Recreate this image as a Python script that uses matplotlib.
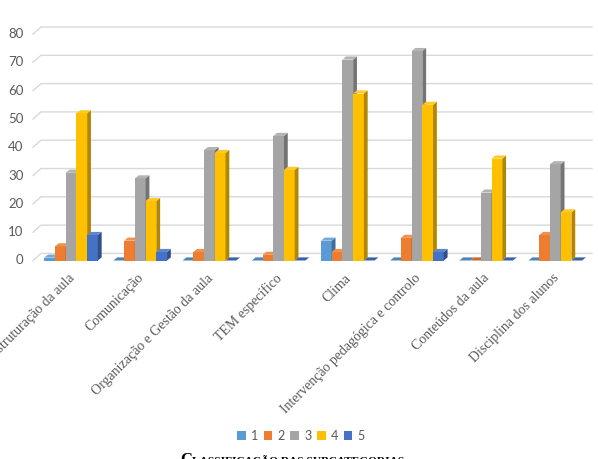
import numpy as np
import matplotlib.pyplot as plt
from matplotlib.patches import Polygon, Patch
from matplotlib.colors import to_rgb

# Data
categorias = ["Estruturação da aula", "Comunicação", "Organização e Gestão da aula",
              "TEM específico", "Clima", "Intervenção pedagógica e controlo",
              "Conteúdos da aula", "Disciplina dos alunos"]
serie_1 = [1, 0, 0, 0, 7, 0, 0, 0]
serie_2 = [5, 7, 3, 2, 3, 8, 0, 9]
serie_3 = [31, 29, 39, 44, 71, 74, 24, 34]
serie_4 = [52, 21, 38, 32, 59, 55, 36, 17]
serie_5 = [9, 3, 0, 0, 0, 3, 0, 0]
series = [serie_1, serie_2, serie_3, serie_4, serie_5]
nomes = ["1", "2", "3", "4", "5"]
cores = ["#5B9BD5", "#ED7D31", "#A5A5A5", "#FFC000", "#4472C4"]
yticks = [0, 10, 20, 30, 40, 50, 60, 70, 80]


def shade(c, f):
    r, g, b = to_rgb(c)
    return (r * f, g * f, b * f)


def tint(c, f):
    r, g, b = to_rgb(c)
    return (r + (1 - r) * f, g + (1 - g) * f, b + (1 - b) * f)


W, H = 598, 459
fig = plt.figure(figsize=(W / 100, H / 100), dpi=100)
left_px, right_px, bot_px, top_px = 33, 592, 260.5, 27
ax = fig.add_axes([left_px / W, 1 - bot_px / H, (right_px - left_px) / W, (bot_px - top_px) / H])
x0, x1 = -0.55, 7.53
ax.set_xlim(x0, x1)
ax.set_ylim(0, 82.5)
for s in ax.spines.values():
    s.set_visible(False)
ax.set_xticks([])
ax.set_yticks([])

# perspective gridlines (back wall)
gx, gy = 0.115, 2.5
for v in yticks:
    ax.plot([x0, x0 + gx, x1], [v, v + gy, v + gy], color="#D9D9D9", lw=1, zorder=0, clip_on=False)
    ax.text(x0 - 0.14, v, str(v), ha="right", va="center", fontsize=9.5, color="#595959", family="Lato")

# 3D-looking bars
w = 0.155
dx, dy = 0.055, 1.1
x = np.arange(len(categorias))
z = 2
for i, (vals, cor) in enumerate(zip(series, cores)):
    xc = x + (i - 2) * w
    ax.bar(xc, vals, width=w, color=cor, zorder=z, linewidth=0)
    for xi, h in zip(xc, vals):
        xl, xr = xi - w / 2, xi + w / 2
        side = Polygon([(xr, 0), (xr + dx, dy), (xr + dx, h + dy), (xr, h)],
                       closed=True, facecolor=shade(cor, 0.7), lw=0, zorder=z)
        top = Polygon([(xl, h), (xl + dx, h + dy), (xr + dx, h + dy), (xr, h)],
                      closed=True, facecolor=tint(cor, 0.15) if h > 0 else shade(cor, 0.85),
                      lw=0, zorder=z)
        ax.add_patch(side)
        ax.add_patch(top)
    z += 1

# category labels
for xi, lab in zip(x, categorias):
    ax.text(xi + 0.02, -5.5, lab, rotation=45, ha="right", va="center", rotation_mode="anchor",
            fontsize=10, color="#595959", family="Liberation Serif")

# legend
handles = [Patch(facecolor=c, label=n) for c, n in zip(cores, nomes)]
fig.legend(handles=handles, loc="center", bbox_to_anchor=(0.503, 1 - 436 / H), ncol=5,
           frameon=False, handlelength=0.7, handleheight=0.7, handletextpad=0.4,
           columnspacing=0.45, prop={"family": "Lato", "size": 9}, labelcolor="#595959")

# bottom title (small caps, partially cut off)
t1 = fig.text(180 / W, 1 - 463.5 / H, "C", fontsize=12, fontweight="bold",
              family="Liberation Serif", va="baseline", ha="left")
fig.canvas.draw()
bb = t1.get_window_extent()
fig.text(bb.x1 / W, 1 - 463.5 / H, "LASSIFICAÇÃO DAS SUBCATEGORIAS", fontsize=8.2,
         fontweight="bold", family="Liberation Serif", va="baseline", ha="left")

fig.savefig("out.png", dpi=100)
